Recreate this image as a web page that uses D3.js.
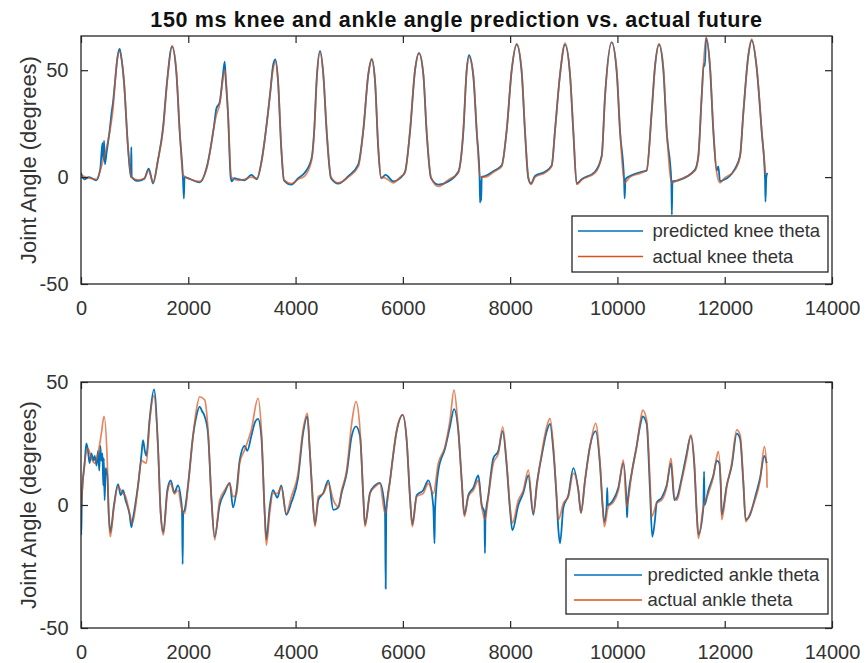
<!DOCTYPE html>
<html>
<head>
<meta charset="utf-8">
<script src="https://cdn.jsdelivr.net/npm/d3@7"></script>
<style>
  html, body { margin: 0; padding: 0; background: #fff; }
  svg { display: block; font-family: "Liberation Sans", Arial, Helvetica, sans-serif; }
</style>
</head>
<body>
<svg id="fig" width="865" height="663"></svg>
<script>
// ---- knee angle (degrees) vs sample index ----
const kneeActual = [
  [0,1],[150,-0.5],[285,-1],[380,5],[535,21],[597,32],[660,52],[720,59],[800,45],[876,14],[940,0],
  [1063,-1.3],[1180,-0.5],[1262,3],[1342,-2.5],[1435,8],[1529,22],[1609,45],[1697,61.5],[1777,50],
  [1840,22],[1902,1],[2040,-1],[2213,-2],[2337,3.4],[2523,29],[2585,34],[2647,46],[2685,50],[2740,30],
  [2802,0],[2927,-1.5],[3050,-1],[3175,0],[3280,-0.5],[3362,6.5],[3486,30],[3579,50],[3623,54],[3673,45],
  [3734,14],[3784,-1.3],[3921,-3],[4050,-1],[4170,0.5],[4300,8],[4350,22],[4394,45],[4456,58.5],[4517,48],
  [4580,22],[4661,0],[4797,-2.7],[4984,0],[5170,5],[5263,22],[5356,48],[5419,55.4],[5481,45],[5542,14],
  [5593,0],[5680,-0.5],[5822,-2.7],[5950,0],[6040,2],[6133,22],[6227,50],[6301,58],[6382,48],[6443,22],
  [6525,0],[6661,-4.4],[6848,-1.3],[7034,2],[7127,22],[7190,50],[7233,56],[7314,48],[7377,22],[7439,0],
  [7532,0],[7700,2.5],[7843,5],[7936,22],[8029,50],[8122,62.4],[8215,50],[8277,22],[8339,0],[8389,-3.4],
  [8464,0],[8650,2],[8775,5],[8837,22],[8930,48],[9023,62.7],[9116,48],[9178,22],[9240,-3.4],[9334,-1.3],
  [9582,2],[9707,9.6],[9769,37.6],[9893,63.2],[9987,50],[10049,22],[10129,-2.7],[10235,0],[10453,2],
  [10545,3.4],[10639,30],[10701,51.5],[10776,62.4],[10856,51.5],[10919,22],[11012,-2.7],[11136,-1.3],
  [11447,3],[11509,9.6],[11571,37.6],[11652,65.5],[11727,51.5],[11789,22],[11851,2],[11913,-2.7],
  [11970,-1],[12192,3.4],[12286,9.6],[12347,30],[12441,57],[12503,64.5],[12596,51.5],[12690,22],[12760,1]
];
const kneePredicted = [
  [0,2],[60,-1],[150,0],[285,-1.5],[360,4],[400,16],[415,8],[430,17],[445,6],[480,12],[535,22],[570,30],
  [597,35],[640,46],[680,56],[720,60],[745,57],[800,45],[876,14],[930,0],[938,14],[945,0],[1063,-1.8],
  [1180,-0.8],[1262,4],[1300,1],[1342,-3],[1435,8],[1529,23],[1609,46],[1697,61],[1777,49],[1840,21],
  [1902,-1],[1918,-10],[1930,0],[2040,-1],[2213,-2.5],[2337,4],[2480,24],[2523,32],[2585,35],[2647,48],
  [2679,54],[2700,45],[2740,30],[2790,0],[2810,-2],[2860,-0.5],[2927,-1],[3050,-1.5],[3175,1],[3280,-1],
  [3362,7],[3486,30],[3530,40],[3579,52],[3623,55],[3673,45],[3734,13],[3784,-1.5],[3921,-3.5],[4050,-0.5],
  [4170,2],[4300,9],[4350,23],[4394,46],[4456,59],[4517,48],[4580,21],[4661,-0.5],[4797,-3],[4984,0.5],
  [5170,6],[5263,22],[5356,48],[5419,55],[5481,45],[5542,13],[5593,-0.5],[5680,1],[5822,-2],[5950,-0.5],
  [6040,2.5],[6133,21],[6227,50],[6301,58],[6382,48],[6443,21],[6525,-0.5],[6661,-3.5],[6848,-2],[7034,2.5],
  [7127,21],[7190,50],[7233,57],[7314,47],[7377,21],[7430,0],[7440,-12],[7450,-2],[7460,-11],[7470,0],
  [7532,0.5],[7700,3],[7843,5.5],[7936,22],[8029,50],[8122,62],[8215,49],[8277,21],[8339,-0.5],[8389,-3],
  [8464,0.5],[8650,2.5],[8775,5.5],[8837,22],[8930,48],[9023,62],[9116,48],[9178,21],[9240,-3],[9334,-1],
  [9582,2.5],[9707,10],[9769,38],[9893,63],[9987,49],[10049,21],[10125,-2],[10135,-10],[10150,-1],
  [10235,0.5],[10453,2.5],[10545,3],[10639,31],[10701,52],[10776,62],[10856,50],[10919,21],[11005,-2],
  [11015,-17.6],[11025,-2],[11136,-1.5],[11447,3.5],[11509,10],[11571,38],[11610,53],[11630,52],[11652,65],
  [11727,51],[11789,21],[11851,3],[11880,5],[11913,-2],[11970,-1.5],[12192,4],[12286,10],[12347,30],
  [12441,57],[12503,64],[12596,51],[12690,21],[12752,-1],[12760,-11.5],[12775,0],[12794,2]
];

// ---- ankle angle (degrees) vs sample index ----
const ankleActual = [
  [0,-2],[20,5],[68,17],[130,23],[193,19],[255,17],[317,21],[379,29],[429,36],[491,17],[516,-3.4],
  [547,-12.9],[615,-0.7],[690,7.4],[783,4.7],[830,3.5],[907,-3.4],[957,-7.4],[1063,7.4],[1125,18],
  [1218,17],[1280,34],[1361,44.5],[1435,23.7],[1485,-3.4],[1535,-12.2],[1609,4.7],[1672,8.8],[1740,4.5],
  [1808,6],[1883,-2],[1933,-3.4],[1995,7.4],[2088,27.8],[2150,38.6],[2212,44],[2306,42.7],[2368,30.5],
  [2430,3.4],[2492,-14.2],[2585,2],[2678,6],[2772,8.8],[2834,3.4],[2900,4.5],[2958,17],[3051,22.4],
  [3175,30.5],[3300,43.4],[3362,30.5],[3424,-3.4],[3455,-16.3],[3517,-3.4],[3579,4.7],[3660,4.7],
  [3734,7.4],[3827,-3.4],[3921,3.4],[4046,12.9],[4139,30.5],[4220,37.3],[4260,24],[4300,10],[4362,-8.8],
  [4424,3.4],[4520,4.7],[4611,8.8],[4704,2],[4797,-0.7],[4859,6],[4953,14.2],[5046,33.2],[5127,42],
  [5201,30.5],[5263,3.4],[5294,-8.8],[5388,4.7],[5481,7.4],[5570,8.8],[5667,-3.4],[5761,10],[5885,30.5],
  [5997,36.6],[6072,26.4],[6133,3.4],[6177,-8.8],[6258,3.4],[6380,4.7],[6475,8.8],[6568,4.7],[6661,17],
  [6786,23.7],[6879,34.5],[6954,46.7],[7034,30.5],[7097,10],[7146,-4.7],[7221,3.4],[7314,6],[7407,10],
  [7470,-0.7],[7532,-6],[7594,3.4],[7687,17],[7780,21],[7861,31.8],[7936,17],[7998,-0.7],[8041,-7.4],
  [8153,2],[8246,6],[8339,14.2],[8432,-3.4],[8500,8],[8588,21],[8682,31.8],[8744,35.2],[8806,23.7],
  [8868,3.4],[8899,-6],[8992,0.7],[9085,3.4],[9178,12.9],[9271,6],[9321,-3.4],[9396,10],[9489,23.7],
  [9595,33.2],[9676,17],[9726,-0.7],[9756,-8.8],[9830,-0.7],[9920,1],[10017,6],[10110,18.3],[10173,-0.7],
  [10266,12.9],[10359,23.7],[10421,33.2],[10471,38.6],[10545,34.5],[10607,10],[10639,-4.7],[10732,0.7],
  [10826,2],[10919,7.4],[10999,19],[11061,3.4],[11110,2],[11199,10],[11292,19.6],[11367,28.5],[11434,17],
  [11478,-3.4],[11509,-13.6],[11602,-0.7],[11695,4.7],[11788,11.5],[11851,19.6],[11880,21.7],[11931,6],
  [11944,-6],[12038,7.4],[12131,17],[12224,30.5],[12286,28.5],[12347,10],[12391,-6.8],[12472,-3.4],
  [12565,2],[12659,10],[12739,23.7],[12783,15],[12790,7]
];
const anklePredicted = [
  [0,-1],[5,-12],[12,-3],[20,5],[68,17],[100,25],[130,22],[160,17],[193,21],[230,18],[255,20],[290,16],
  [317,22],[340,14],[360,24],[379,18],[400,21],[415,8],[425,19],[440,2],[460,15],[491,12],[516,-3],
  [547,-11],[615,0],[690,8.5],[740,4],[783,6],[830,2],[907,-4],[940,-9],[957,-7],[1063,8],[1125,20],
  [1156,26.4],[1190,22],[1218,20],[1280,35],[1361,47],[1435,24],[1485,-3],[1535,-11],[1609,6],[1672,10],
  [1740,5],[1808,8],[1860,3],[1883,-2],[1895,-24],[1905,-3],[1933,-2],[1995,8],[2088,28],[2150,36],
  [2212,40],[2260,38],[2306,36],[2368,29],[2430,3],[2492,-13],[2585,0],[2678,5],[2772,9],[2834,-1],
  [2900,6],[2958,18],[3051,24],[3100,22],[3175,28],[3250,34],[3300,35],[3362,28],[3424,-3],[3455,-14],
  [3517,-1],[3579,6],[3660,3],[3734,8],[3827,-4],[3921,1],[4046,11],[4139,29],[4220,36],[4260,24],
  [4300,9],[4362,-8],[4424,2],[4520,5],[4611,10],[4704,-2],[4797,-1],[4859,5],[4953,13],[5046,28],
  [5127,32],[5201,28],[5263,3],[5294,-8],[5388,5],[5481,8],[5570,9],[5667,-2],[5680,-34],[5690,-3],
  [5761,10],[5885,30],[5997,36.6],[6072,26],[6133,3],[6177,-8],[6258,4],[6380,6],[6475,10],[6568,-0.7],
  [6590,-15.6],[6600,-2],[6661,14],[6786,23],[6879,32],[6954,39],[7034,30],[7097,10],[7146,-4],[7221,4],
  [7314,7],[7407,12],[7470,0],[7520,-3],[7530,-19.6],[7540,-5],[7594,4],[7687,19],[7780,22],[7861,30],
  [7936,16],[7998,-2],[8041,-10.3],[8153,0],[8246,5],[8339,12],[8432,-4],[8500,9],[8588,20],[8682,30],
  [8744,33],[8806,22],[8868,2],[8899,-10],[8930,-15.6],[8992,-1],[9085,4],[9178,15],[9271,6],[9321,-3],
  [9396,10],[9489,24],[9595,30],[9676,16],[9726,-1],[9756,-7],[9800,0],[9810,7],[9820,0],[9920,2],
  [10017,7],[10110,17],[10173,-1],[10180,-5],[10190,0],[10266,13],[10359,24],[10421,32],[10471,36],
  [10545,33],[10607,6],[10650,-12.9],[10700,-6],[10732,1],[10826,3],[10919,8],[10999,17],[11061,2],
  [11110,3],[11199,11],[11292,21],[11367,28],[11434,16],[11478,-3],[11509,-12],[11602,-1],[11615,13.6],
  [11625,0],[11695,6],[11788,12],[11851,18],[11900,17],[11931,5],[11944,-4],[12038,8],[12131,16],
  [12224,29],[12286,27],[12347,9],[12391,-6],[12472,-4],[12565,3],[12659,11],[12739,20],[12783,17]
];

// ---- axis settings ----
const xDomain = [0, 14000];
const xTicks = [0, 2000, 4000, 6000, 8000, 10000, 12000, 14000];
const yTicks = [-50, 0, 50];
const kneeYDomain = [-50, 66];
const ankleYDomain = [-50, 50];
const titleText = "150 ms knee and ankle angle prediction vs. actual future";
const yLabelText = "Joint Angle (degrees)";
const kneeLegend = ["predicted knee theta", "actual knee theta"];
const ankleLegend = ["predicted ankle theta", "actual ankle theta"];

const BLUE = "#0072BD", ORANGE = "#D95319", INK = "#262626";
const svg = d3.select("#fig");
const left = 81, right = 832;
const x = d3.scaleLinear().domain(xDomain).range([left, right]);
// plain integer labels with an ASCII hyphen for negatives
const plainNumber = d => String(d);

svg.append("text")
  .attr("x", (left + right) / 2).attr("y", 27)
  .attr("text-anchor", "middle")
  .attr("font-size", 21.5).attr("font-weight", "bold")
  .attr("letter-spacing", 0.65)
  .attr("fill", "#111")
  .text(titleText);

function panel(id, top, bottom, yDomain, predicted, actual, legendLabels, legendBox) {
  const y = d3.scaleLinear().domain(yDomain).range([bottom, top]);
  const g = svg.append("g");

  g.append("clipPath").attr("id", id).append("rect")
    .attr("x", left).attr("y", top).attr("width", right - left).attr("height", bottom - top);

  const line = d3.line().x(d => x(d[0])).y(d => y(d[1])).curve(d3.curveMonotoneX);
  const plot = g.append("g").attr("clip-path", `url(#${id})`);
  plot.append("path").datum(predicted)
    .attr("d", line).attr("fill", "none").attr("stroke", BLUE)
    .attr("stroke-width", 1.8).attr("stroke-linejoin", "round");
  plot.append("path").datum(actual)
    .attr("d", line).attr("fill", "none").attr("stroke", ORANGE)
    .attr("stroke-width", 1.7).attr("stroke-linejoin", "round").attr("stroke-opacity", 0.7);

  const tickLen = 7;
  const styleAxis = a => {
    a.select(".domain").remove();
    a.selectAll(".tick line").attr("stroke", INK).attr("stroke-width", 1.2);
    a.selectAll(".tick text").attr("fill", "#333").attr("font-size", 20)
      .attr("font-family", "'Liberation Sans', Arial, sans-serif");
  };
  g.append("g").attr("transform", `translate(0,${bottom})`)
    .call(d3.axisBottom(x).tickValues(xTicks).tickFormat(plainNumber)
      .tickSize(-tickLen).tickPadding(16.5)).call(styleAxis);
  g.append("g").attr("transform", `translate(0,${top})`)
    .call(d3.axisTop(x).tickValues(xTicks).tickSize(-tickLen).tickFormat("")).call(styleAxis);
  g.append("g").attr("transform", `translate(${left},0)`)
    .call(d3.axisLeft(y).tickValues(yTicks).tickFormat(plainNumber)
      .tickSize(-tickLen).tickPadding(12.5)).call(styleAxis);
  g.append("g").attr("transform", `translate(${right},0)`)
    .call(d3.axisRight(y).tickValues(yTicks).tickSize(-tickLen).tickFormat("")).call(styleAxis);

  g.append("rect")
    .attr("x", left).attr("y", top).attr("width", right - left).attr("height", bottom - top)
    .attr("fill", "none").attr("stroke", INK).attr("stroke-width", 1.3);

  g.append("text")
    .attr("transform", `translate(28,${(top + bottom) / 2}) rotate(-90)`)
    .attr("text-anchor", "middle").attr("dy", "0.35em")
    .attr("font-size", 22).attr("fill", "#333")
    .text(yLabelText);

  // legend
  const lg = g.append("g");
  lg.append("rect")
    .attr("x", legendBox.x0).attr("y", legendBox.y0)
    .attr("width", legendBox.x1 - legendBox.x0).attr("height", legendBox.y1 - legendBox.y0)
    .attr("fill", "#fff").attr("stroke", INK).attr("stroke-width", 1.3);
  [BLUE, ORANGE].forEach((c, i) => {
    const yy = legendBox.rows[i];
    lg.append("line")
      .attr("x1", legendBox.lx0).attr("x2", legendBox.lx1).attr("y1", yy).attr("y2", yy)
      .attr("stroke", c).attr("stroke-width", 1.6);
    lg.append("text")
      .attr("x", legendBox.tx).attr("y", yy).attr("dy", "0.35em")
      .attr("font-size", 18.5).attr("fill", "#333")
      .text(legendLabels[i]);
  });
}

panel("clipKnee", 36, 284, kneeYDomain, kneePredicted, kneeActual, kneeLegend,
  { x0: 572, x1: 828, y0: 216, y1: 272, lx0: 578, lx1: 643, tx: 652.5, rows: [231, 256.5] });
panel("clipAnkle", 382, 628, ankleYDomain, anklePredicted, ankleActual, ankleLegend,
  { x0: 566, x1: 828, y0: 559, y1: 614, lx0: 574, lx1: 642, tx: 647.5, rows: [575, 600] });
</script>
</body>
</html>
